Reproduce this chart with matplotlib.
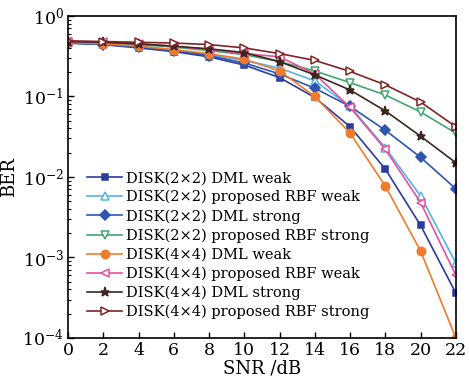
import matplotlib
matplotlib.use("Agg")
import matplotlib.pyplot as plt
from matplotlib.ticker import LogLocator, NullFormatter

plt.rcParams['font.family'] = ['DejaVu Serif']
plt.rcParams['mathtext.fontset'] = 'dejavuserif'

snr = [0, 2, 4, 6, 8, 10, 12, 14, 16, 18, 20, 22]

dml2_weak = [0.46, 0.44, 0.40, 0.36, 0.31, 0.245, 0.171, 0.097, 0.042, 0.0125, 0.0025, 0.00036]
rbf2_weak = [0.46, 0.45, 0.42, 0.38, 0.33, 0.28, 0.224, 0.156, 0.075, 0.023, 0.0058, 0.00085]
dml2_strong = [0.46, 0.44, 0.41, 0.37, 0.32, 0.26, 0.19, 0.126, 0.075, 0.038, 0.0175, 0.0071]
rbf2_strong = [0.47, 0.46, 0.44, 0.41, 0.37, 0.33, 0.27, 0.207, 0.148, 0.104, 0.064, 0.035]
dml4_weak = [0.47, 0.45, 0.42, 0.38, 0.34, 0.29, 0.207, 0.10, 0.035, 0.0077, 0.0012, 0.0001]
rbf4_weak = [0.48, 0.47, 0.45, 0.42, 0.38, 0.34, 0.31, 0.19, 0.073, 0.022, 0.0048, 0.0006]
dml4_strong = [0.48, 0.47, 0.45, 0.42, 0.39, 0.35, 0.27, 0.185, 0.12, 0.066, 0.032, 0.015]
rbf4_strong = [0.49, 0.48, 0.47, 0.46, 0.44, 0.40, 0.34, 0.28, 0.204, 0.139, 0.085, 0.042]

labels = [
    "DISK(2×2) DML weak",
    "DISK(2×2) proposed RBF weak",
    "DISK(2×2) DML strong",
    "DISK(2×2) proposed RBF strong",
    "DISK(4×4) DML weak",
    "DISK(4×4) proposed RBF weak",
    "DISK(4×4) DML strong",
    "DISK(4×4) proposed RBF strong",
]

series = [dml2_weak, rbf2_weak, dml2_strong, rbf2_strong, dml4_weak, rbf4_weak, dml4_strong, rbf4_strong]
colors = ["#2b3b9e", "#55b4e6", "#2d55b0", "#3fa86e", "#f07b2c", "#e8509c", "#3e2620", "#7d2424"]
markers = ["s", "^", "D", "v", "o", "<", "*", ">"]
filled = [True, False, True, False, True, False, True, False]
msizes = [5, 6, 5, 6, 6, 6, 6.5, 6]

fig = plt.figure(figsize=(4.69, 3.78), dpi=100)
ax = fig.add_axes([0.145, 0.106, 0.827, 0.852])

for y, lab, c, m, f, ms in zip(series, labels, colors, markers, filled, msizes):
    ax.plot(snr, y, color=c, marker=m, markersize=ms, linewidth=1.2,
            markerfacecolor=c if f else "white", markeredgecolor=c,
            markeredgewidth=1.1, label=lab)

ax.set_yscale("log")
ax.set_xlim(0, 22)
ax.set_ylim(1e-4, 1)
ax.set_xticks(snr)
ax.set_yticks([1e-4, 1e-3, 1e-2, 1e-1, 1])
ax.yaxis.set_minor_locator(LogLocator(base=10, subs=range(2, 10), numticks=20))
ax.yaxis.set_minor_formatter(NullFormatter())
ax.tick_params(axis="both", which="major", direction="in", length=4, width=1,
               labelsize=12.5, top=False, right=False, pad=3)
ax.tick_params(axis="y", which="minor", direction="in", length=2, width=0.8, right=False)
for s in ax.spines.values():
    s.set_linewidth(1.2)

ax.set_xlabel("SNR /dB", fontsize=13, labelpad=0)
ax.set_ylabel("BER", fontsize=13, labelpad=3)

ax.legend(loc="lower left", bbox_to_anchor=(0.035, 0.04), frameon=False, fontsize=10.5,
          handlelength=2.4, handletextpad=0.25, labelspacing=0.33, borderaxespad=0.0)

fig.savefig("out.png", dpi=100)
